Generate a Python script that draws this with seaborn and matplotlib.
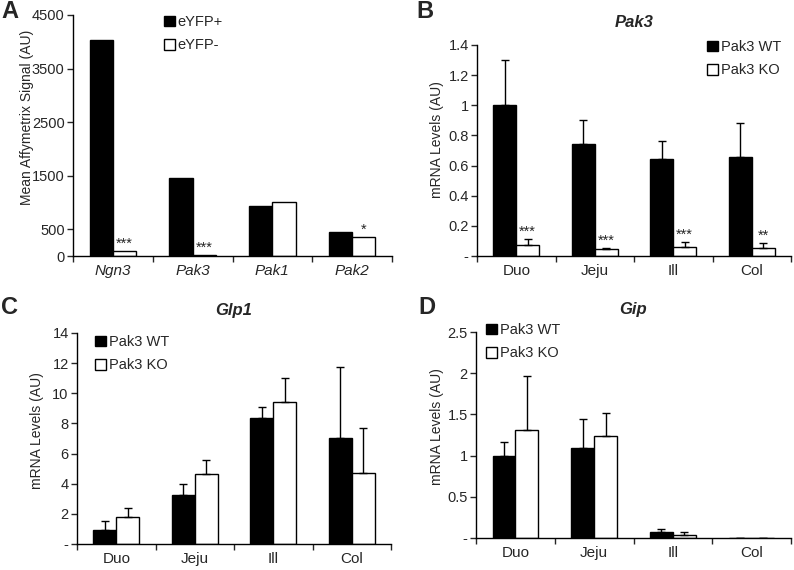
import numpy as np
import pandas as pd
import matplotlib
matplotlib.use("Agg")
import matplotlib.pyplot as plt
import seaborn as sns
from matplotlib.patches import Patch

# panel A - microarray signal
genes_a = ["Ngn3", "Pak3", "Pak1", "Pak2"]
eyfp_pos = [4040, 1450, 940, 440]
eyfp_neg = [100, 15, 1015, 350]
stars_a = ["***", "***", "", "*"]
labels_a = ["eYFP+", "eYFP-"]
yticks_a = [0, 500, 1500, 2500, 3500, 4500]
yticklabels_a = ["0", "500", "1500", "2500", "3500", "4500"]

# panels B-D - qPCR by gut region
regions = ["Duo", "Jeju", "Ill", "Col"]
labels_q = ["Pak3 WT", "Pak3 KO"]

pak3_wt = [1.0, 0.745, 0.645, 0.655]
pak3_wt_err = [0.30, 0.155, 0.12, 0.23]
pak3_ko = [0.07, 0.045, 0.06, 0.055]
pak3_ko_err = [0.045, 0.008, 0.035, 0.03]
stars_b = ["***", "***", "***", "**"]
yticks_b = [0, 0.2, 0.4, 0.6, 0.8, 1.0, 1.2, 1.4]
yticklabels_b = ["-", "0.2", "0.4", "0.6", "0.8", "1", "1.2", "1.4"]

glp1_wt = [0.96, 3.22, 8.33, 7.05]
glp1_wt_err = [0.56, 0.78, 0.75, 4.7]
glp1_ko = [1.80, 4.64, 9.45, 4.72]
glp1_ko_err = [0.58, 0.96, 1.56, 3.0]
yticks_c = [0, 2, 4, 6, 8, 10, 12, 14]
yticklabels_c = ["-", "2", "4", "6", "8", "10", "12", "14"]

gip_wt = [1.0, 1.09, 0.077, 0.003]
gip_wt_err = [0.16, 0.35, 0.035, 0.0]
gip_ko = [1.31, 1.24, 0.04, 0.005]
gip_ko_err = [0.66, 0.28, 0.03, 0.0]
yticks_d = [0, 0.5, 1.0, 1.5, 2.0, 2.5]
yticklabels_d = ["-", "0.5", "1", "1.5", "2", "2.5"]

sns.set_style("ticks")
plt.rcParams["font.family"] = ["Liberation Sans", "DejaVu Sans"]

W, H = 794, 570
fig = plt.figure(figsize=(W / 100, H / 100), dpi=100)


def px_axes(box):
    left, top, right, bottom = box
    return fig.add_axes([left / W, 1 - bottom / H, (right - left) / W, (bottom - top) / H])


def draw_panel(ax, box, cats, v1, v2, labels, err1=None, err2=None, stars=None,
               yticks=None, yticklabels=None, ylabel="", ylabel_xy=(0, 0),
               title=None, italic_x=False, legend_xy=(0, 0)):
    df = pd.DataFrame({
        "cat": cats + cats,
        "val": v1 + v2,
        "grp": [labels[0]] * len(cats) + [labels[1]] * len(cats),
    })
    sns.barplot(data=df, x="cat", y="val", hue="grp", palette=["black", "white"],
                edgecolor="black", linewidth=1, width=0.58, ax=ax, legend=False,
                errorbar=None)
    conts = ax.containers
    for cont, err in zip(conts, [err1, err2]):
        if err is None:
            continue
        xs = [p.get_x() + p.get_width() / 2 for p in cont]
        ys = [p.get_height() for p in cont]
        ax.errorbar(xs, ys, yerr=[np.zeros(len(err)), err], fmt="none",
                    ecolor="black", elinewidth=1, capsize=3, capthick=1)
    if stars is not None:
        e2 = err2 if err2 is not None else [0] * len(cats)
        for p, e, s in zip(conts[1], e2, stars):
            if s:
                ax.annotate(s, (p.get_x() + p.get_width() / 2, p.get_height() + e),
                            xytext=(0, 0), textcoords="offset points",
                            ha="center", va="bottom", fontsize=10.5)
    ax.set_ylim(yticks[0], yticks[-1])
    ax.set_xlim(-0.5, len(cats) - 0.5)
    ax.set_yticks(yticks)
    ax.set_yticklabels(yticklabels, fontsize=10.5)
    ax.set_xticks(range(len(cats)))
    ax.set_xticklabels(cats, fontsize=11, style="italic" if italic_x else "normal")
    ax.set_xticks(np.arange(-0.5, len(cats)), minor=True)
    ax.tick_params(axis="x", which="major", length=0, pad=6)
    ax.tick_params(axis="x", which="minor", length=4, width=1, direction="out")
    ax.tick_params(axis="y", length=4, width=1, direction="out", pad=2)
    ax.set_xlabel("")
    ax.set_ylabel(ylabel, fontsize=10)
    left, top, right, bottom = box
    ax.yaxis.set_label_coords((ylabel_xy[0] - left) / (right - left),
                              (bottom - ylabel_xy[1]) / (bottom - top))
    sns.despine(ax=ax)
    for sp in ["left", "bottom"]:
        ax.spines[sp].set_linewidth(1)
        ax.spines[sp].set_color("black")
    if title:
        ax.set_title(title, fontsize=12, fontweight="bold", style="italic", pad=13)
    handles = [Patch(facecolor="black", edgecolor="black", label=labels[0]),
               Patch(facecolor="white", edgecolor="black", label=labels[1])]
    ax.legend(handles=handles, loc="upper left",
              bbox_to_anchor=(legend_xy[0] / W, 1 - legend_xy[1] / H),
              bbox_transform=fig.transFigure, frameon=False, fontsize=10.5,
              handlelength=0.75, handleheight=0.75, handletextpad=0.2,
              labelspacing=0.65, borderpad=0, borderaxespad=0)


box_a = (73, 15, 392, 256)
ax_a = px_axes(box_a)
draw_panel(ax_a, box_a, genes_a, eyfp_pos, eyfp_neg, labels_a, stars=stars_a,
           yticks=yticks_a, yticklabels=yticklabels_a,
           ylabel="Mean Affymetrix Signal (AU)", ylabel_xy=(34, 117),
           italic_x=True, legend_xy=(164, 15))

box_b = (477, 45, 791, 256)
ax_b = px_axes(box_b)
draw_panel(ax_b, box_b, regions, pak3_wt, pak3_ko, labels_q, pak3_wt_err, pak3_ko_err,
           stars=stars_b, yticks=yticks_b, yticklabels=yticklabels_b,
           ylabel="mRNA Levels (AU)", ylabel_xy=(444, 140), title="Pak3",
           legend_xy=(707, 40))

box_c = (77, 333, 391, 544)
ax_c = px_axes(box_c)
draw_panel(ax_c, box_c, regions, glp1_wt, glp1_ko, labels_q, glp1_wt_err, glp1_ko_err,
           yticks=yticks_c, yticklabels=yticklabels_c,
           ylabel="mRNA Levels (AU)", ylabel_xy=(44, 431), title="Glp1",
           legend_xy=(95, 335))

box_d = (476, 332, 791, 538)
ax_d = px_axes(box_d)
draw_panel(ax_d, box_d, regions, gip_wt, gip_ko, labels_q, gip_wt_err, gip_ko_err,
           yticks=yticks_d, yticklabels=yticklabels_d,
           ylabel="mRNA Levels (AU)", ylabel_xy=(444, 427), title="Gip",
           legend_xy=(486, 323))

for letter, x, y in [("A", 10, 12), ("B", 425, 12), ("C", 10, 308), ("D", 427, 307)]:
    fig.text(x / W, 1 - y / H, letter, fontsize=17, fontweight="bold",
             ha="center", va="center")

fig.savefig("out.png", dpi=100)
